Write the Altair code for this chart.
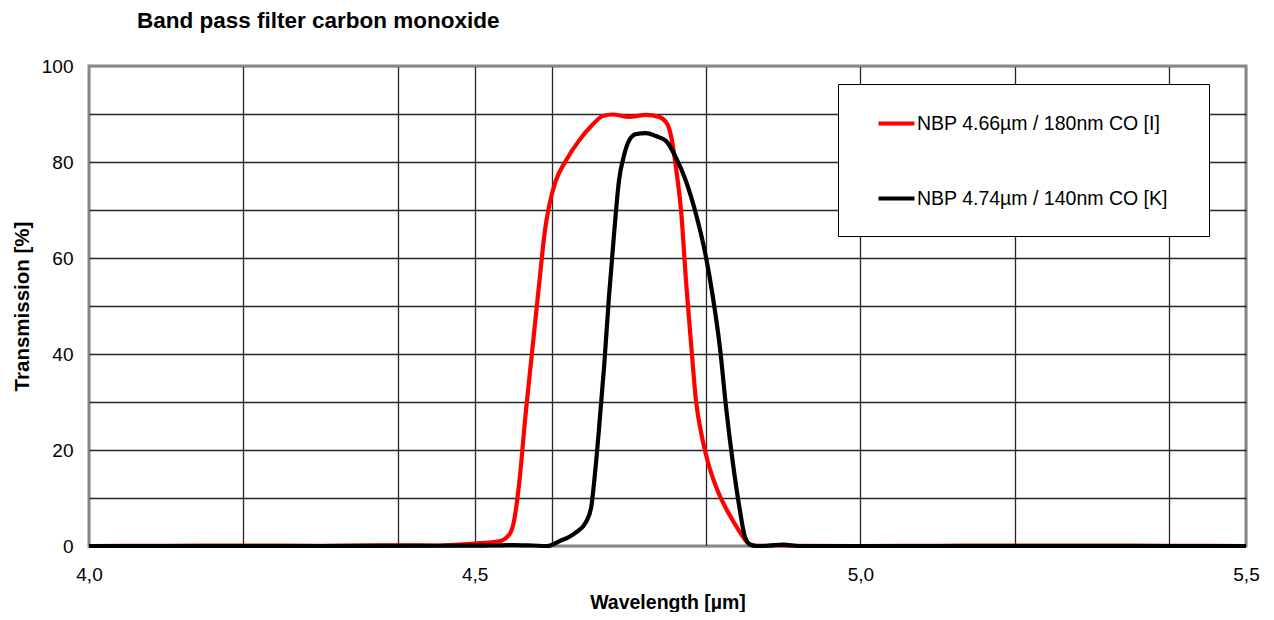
import altair as alt
import pandas as pd

# ---------------- data ----------------
red_name = "NBP 4.66µm / 180nm CO [I]"
black_name = "NBP 4.74µm / 140nm CO [K]"

red_x = [4.00, 4.10, 4.20, 4.30, 4.38, 4.45, 4.48, 4.50, 4.532, 4.545, 4.551,
         4.558, 4.566, 4.575, 4.584, 4.591, 4.597, 4.605, 4.618, 4.635, 4.653,
         4.666, 4.679, 4.700, 4.722, 4.739, 4.750, 4.755, 4.761, 4.768, 4.774,
         4.781, 4.787, 4.794, 4.802, 4.815, 4.830, 4.843, 4.852, 4.861, 4.875,
         4.89, 4.91, 5.0, 5.1, 5.2, 5.3, 5.4, 5.5]
red_y = [0.0, 0.05, 0.1, 0.05, 0.15, 0.1, 0.3, 0.5, 1.0, 2.4, 5.2,
         13.5, 27.4, 41.3, 55.2, 65.6, 71.2, 76.0, 80.2, 84.4, 87.8,
         89.6, 89.9, 89.4, 89.8, 89.4, 87.8, 85.1, 78.8, 69.1, 55.2,
         41.3, 30.2, 23.3, 17.7, 11.5, 6.6, 3.1, 1.0, 0.1, 0.0,
         0.2, 0.05, 0.0, 0.05, 0.1, 0.1, 0.05, 0.0]

black_x = [4.00, 4.30, 4.45, 4.52, 4.55, 4.575, 4.594, 4.610, 4.631, 4.644,
           4.651, 4.655, 4.661, 4.668, 4.674, 4.681, 4.687, 4.694, 4.700, 4.709,
           4.722, 4.735, 4.748, 4.761, 4.774, 4.787, 4.800, 4.809, 4.818, 4.826,
           4.835, 4.844, 4.850, 4.857, 4.866, 4.88, 4.90, 4.92, 5.0, 5.5]
black_y = [0.0, 0.0, 0.05, 0.1, 0.2, 0.1, 0.0, 1.0, 2.8, 4.9,
           8.0, 13.5, 24.0, 37.8, 51.7, 65.6, 76.0, 81.6, 84.4, 85.8,
           86.0, 85.4, 84.4, 80.9, 76.0, 69.1, 60.1, 51.7, 41.3, 28.8,
           17.0, 7.3, 2.1, 0.3, 0.0, 0.05, 0.3, 0.0, 0.0, 0.0]

grid_x = [4.0, 4.2, 4.4, 4.5, 4.6, 4.8, 5.0, 5.2, 5.4, 5.5]
label_x = [4.0, 4.5, 5.0, 5.5]
grid_y = list(range(0, 101, 10))

df = pd.DataFrame({
    "wl": red_x + black_x,
    "t": red_y + black_y,
    "series": [red_name] * len(red_x) + [black_name] * len(black_x),
})

FONT = "Liberation Sans, Arial, Helvetica, sans-serif"
BORDER = "#878787"
GRID = "#262626"
NBSP = "\u00a0"
ZWSP = "\u200b"

label_list = ", ".join(str(v) for v in label_x)
x_label_expr = (
    f"indexof([{label_list}], datum.value) >= 0 ? "
    "replace(format(datum.value, '.1f'), '.', ',') : ''"
)

x = alt.X(
    "wl:Q",
    scale=alt.Scale(domain=[4.0, 5.5], nice=False, zero=False),
    axis=alt.Axis(
        values=grid_x,
        labelExpr=x_label_expr,
        labelFlush=False,
        title="Wavelength [µm]",
        titleY=62,
        titleBaseline="alphabetic",
        labelPadding=34,
        labelBaseline="alphabetic",
        gridColor={"condition": {"test": "datum.value <= 4.0001 || datum.value >= 5.4999",
                                 "value": BORDER}, "value": GRID},
    ),
)
y = alt.Y(
    "t:Q",
    scale=alt.Scale(domain=[0, 100], nice=False),
    axis=alt.Axis(
        values=grid_y,
        labelExpr="datum.value % 20 == 0 ? datum.label : ''",
        labelFlush=False,
        title="Transmission [%]",
        titleFontSize=20.5,
        titleX=-67,
        titleY=240,
        titleAngle=270,
        titleBaseline="middle",
        titleAlign="center",
        labelPadding=16,
        gridColor={"condition": {"test": "datum.value <= 0.001 || datum.value >= 99.999",
                                 "value": BORDER}, "value": GRID},
    ),
)
color = alt.Color(
    "series:N",
    scale=alt.Scale(domain=[red_name, black_name], range=["#ff0000", "#000000"]),
    legend=alt.Legend(
        title=NBSP,
        titleOrient="bottom",
        titleFontSize=6,
        titlePadding=3,
        orient="none",
        legendX=749,
        legendY=18,
        strokeColor="#000000",
        fillColor="#ffffff",
        cornerRadius=0,
        padding=19,
        symbolType="stroke",
        symbolSize=1296,
        symbolStrokeWidth=4.2,
        symbolOffset=19,
        labelOffset=0,
        labelFont=FONT,
        labelFontSize=19.5,
        labelColor="#000000",
        labelLimit=500,
        rowPadding=45,
        labelExpr="datum.label + '" + NBSP * 4 + ZWSP + "'",
    ),
)

base = alt.Chart(df)
red = base.transform_filter(alt.datum.series == red_name).mark_line(
    strokeWidth=4.2, interpolate="monotone"
).encode(x=x, y=y, color=color)
black = base.transform_filter(alt.datum.series == black_name).mark_line(
    strokeWidth=4.2, interpolate="monotone"
).encode(x=x, y=y, color=color)

chart = alt.layer(red, black).properties(
    width=1157,
    height=480,
    autosize=alt.AutoSizeParams(type="none"),
    padding={"left": 81, "top": 58, "right": 20, "bottom": 66},
    title=alt.TitleParams(
        "Band pass filter carbon monoxide",
        anchor="start",
        frame="group",
        dx=48,
        dy=21,
        offset=28,
        baseline="alphabetic",
        font=FONT,
        fontSize=22.5,
        fontWeight="bold",
        color="#000000",
    ),
).configure_view(
    stroke=BORDER, strokeWidth=3
).configure_axis(
    labelFont=FONT,
    labelFontSize=19,
    labelColor="#000000",
    titleFont=FONT,
    titleFontSize=19.5,
    titleFontWeight="bold",
    titleColor="#000000",
    ticks=False,
    tickSize=0,
    domain=False,
    gridWidth=1.3,
    gridOpacity=1,
)

chart.save("out.html", embed_options={"renderer": "svg", "actions": False})
